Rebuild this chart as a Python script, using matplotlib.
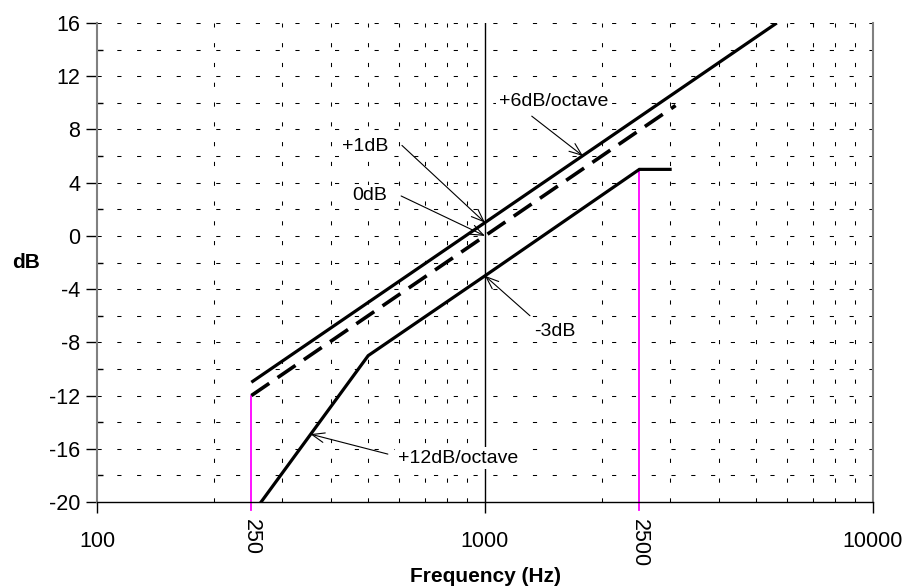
import numpy as np
import matplotlib
matplotlib.use("Agg")
import matplotlib.pyplot as plt
from matplotlib.ticker import FixedLocator, NullFormatter

plt.rcParams["font.family"] = ["Liberation Sans", "DejaVu Sans"]

# curves (Hz, dB)
freq_plus1 = [250, 1000, 5650]
db_plus1 = [-11, 1, 16]

freq_zero = [250, 1000, 3100]
db_zero = [-12, 0, 9.8]

freq_minus3 = [250, 500, 1000, 2500, 3000]
db_minus3 = [-21, -9, -3, 5, 5]

# magenta markers at band edges
edge_freqs = [250, 2500]
edge_tops = [-12, 5]

x_major = [100, 250, 1000, 2500, 10000]
x_labels = ["100", "250", "1000", "2500", "10000"]
x_rotated = ["250", "2500"]
x_minor = [200, 300, 400, 500, 600, 700, 800, 900,
           2000, 3000, 4000, 5000, 6000, 7000, 8000, 9000]
y_major = np.arange(-20, 17, 4)
y_minor = np.arange(-18, 17, 4)

# annotations: (text, text pos, arrow tail, arrow head)
notes = [
    ("+6dB/octave", (1500, 10.1), (1320, 9.0), (1790, 6.0)),
    ("+1dB", (491, 6.7), (611, 6.8), (1000, 1.0)),
    ("0dB", (505, 3.0), (608, 3.0), (1000, 0.0)),
    ("-3dB", (1514, -7.15), (1306, -6.0), (1000, -3.0)),
    ("+12dB/octave", (851, -16.7), (562, -16.4), (355, -14.9)),
]

fig = plt.figure(figsize=(9.08, 5.87), dpi=100)
ax = fig.add_axes([0.1068, 0.1448, 0.8546, 0.816])

ax.set_xscale("log")
ax.set_xlim(100, 10000)
ax.set_ylim(-20, 16)

# grid
grid_ls = (0, (4, 15))
for f in x_minor:
    ax.axvline(f, color="black", lw=0.75, ls=grid_ls, zorder=1)
for d in list(y_major) + list(y_minor):
    if d > -20:
        ax.axhline(d, color="black", lw=0.75, ls=grid_ls, zorder=1)
ax.axvline(1000, color="black", lw=1.0, zorder=1.5)

# curves
ax.plot(freq_plus1, db_plus1, color="black", lw=2.3, solid_capstyle="butt", zorder=3)
ax.plot(freq_zero, db_zero, color="black", lw=2.6, ls=(0, (6, 2.8)), zorder=3)
ax.plot(freq_minus3, db_minus3, color="black", lw=2.3, solid_joinstyle="miter", zorder=3)

for f, top in zip(edge_freqs, edge_tops):
    ax.plot([f, f], [top, -20.6], color="#ff00ff", lw=1.3, clip_on=False, zorder=2)

for text, tpos, tail, head in notes:
    ax.text(tpos[0], tpos[1], text, fontsize=14, ha="center", va="center", zorder=5,
            bbox=dict(facecolor="white", edgecolor="none", pad=2))
    ax.annotate("", xy=head, xytext=tail,
                arrowprops=dict(arrowstyle="->,head_length=0.9,head_width=0.35",
                                lw=0.8, color="black", shrinkA=0, shrinkB=0),
                zorder=5)

# axes styling
ax.spines["top"].set_visible(False)
ax.spines["left"].set_color("#808080")
ax.spines["left"].set_linewidth(1.5)
ax.spines["right"].set_color("#808080")
ax.spines["right"].set_linewidth(1.5)
ax.spines["bottom"].set_color("black")
ax.spines["bottom"].set_linewidth(1.0)

ax.xaxis.set_major_locator(FixedLocator(x_major))
ax.xaxis.set_minor_locator(FixedLocator(x_minor))
ax.xaxis.set_minor_formatter(NullFormatter())
ax.set_xticklabels(x_labels, fontsize=15.5)
ax.tick_params(axis="x", which="major", direction="out", length=8, width=1.0, pad=13)
ax.tick_params(axis="x", which="minor", length=0)
for tick, lab in zip(ax.xaxis.get_major_ticks(), x_labels):
    if lab in x_rotated:
        tick.tick1line.set_visible(False)
        tick.label1.set_rotation(270)
        tick.set_pad(4)

ax.set_yticks(y_major)
ax.set_yticks(y_minor, minor=True)
ax.set_yticklabels([str(v) for v in y_major], fontsize=15.5)
ax.tick_params(axis="y", which="major", direction="out", length=8, width=1.0,
               color="black", pad=4)
ax.tick_params(axis="y", which="minor", direction="in", length=4, width=1.0,
               color="black")
ax.tick_params(axis="y", which="both", right=False)

ax.set_xlabel("Frequency (Hz)", fontsize=15, fontweight="bold", va="center")
ax.xaxis.set_label_coords(0.501, -0.155)
ax.set_ylabel("dB", fontsize=15, fontweight="bold", rotation=0, ha="center", va="center")
ax.yaxis.set_label_coords(-0.0915, 0.499)

fig.savefig("out.png", dpi=100)
